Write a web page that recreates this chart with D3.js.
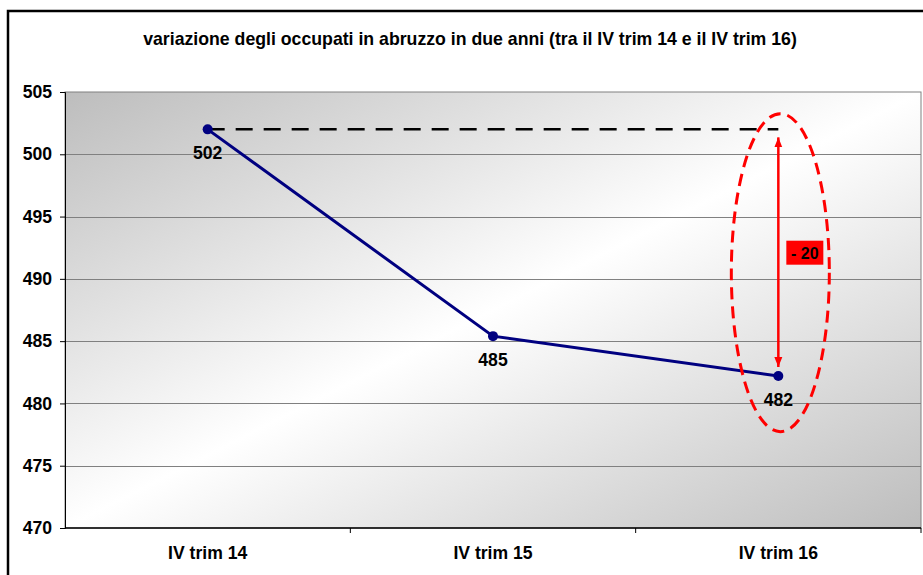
<!DOCTYPE html>
<html>
<head>
<meta charset="utf-8">
<script src="https://cdn.jsdelivr.net/npm/d3@7"></script>
<style>
  html, body { margin: 0; padding: 0; background: #fff; }
  svg text { font-family: "Liberation Sans", Arial, sans-serif; font-weight: bold; }
</style>
</head>
<body>
<div id="chart"></div>
<script>
// data
const categories = ["IV trim 14", "IV trim 15", "IV trim 16"];
const occupati = [502.0, 485.4, 482.2];
const yTicks = [470, 475, 480, 485, 490, 495, 500, 505];
const title = "variazione degli occupati in abruzzo in due anni (tra il IV trim 14 e il IV trim 16)";
const deltaLabel = "- 20";

const width = 923, height = 575;
const plot = { left: 65, top: 92, right: 921, bottom: 528 };
const fontSize = "17.6px";

const svg = d3.select("#chart")
  .append("svg")
  .attr("width", width)
  .attr("height", height);

// outer chart frame (cut off on the right and bottom)
svg.append("rect")
  .attr("x", 8).attr("y", 11)
  .attr("width", 940).attr("height", 600)
  .attr("fill", "#fff")
  .attr("stroke", "#000")
  .attr("stroke-width", 2.5);

svg.append("text")
  .attr("x", 470).attr("y", 45)
  .attr("text-anchor", "middle")
  .style("font-size", "17.7px")
  .text(title);

const x = d3.scaleBand()
  .domain(categories)
  .range([plot.left, plot.right]);

const y = d3.scaleLinear()
  .domain([470, 505])
  .range([plot.bottom, plot.top]);

// plot area background gradient
const defs = svg.append("defs");
const grad = defs.append("linearGradient")
  .attr("id", "bg")
  .attr("x1", 0).attr("y1", 0).attr("x2", 1).attr("y2", 1);
grad.append("stop").attr("offset", "0%").attr("stop-color", "#bdbdbd");
grad.append("stop").attr("offset", "50%").attr("stop-color", "#ffffff");
grad.append("stop").attr("offset", "100%").attr("stop-color", "#bdbdbd");

defs.append("marker")
  .attr("id", "arrow")
  .attr("viewBox", "0 0 10 10")
  .attr("refX", 10).attr("refY", 5)
  .attr("markerWidth", 4).attr("markerHeight", 4.5)
  .attr("orient", "auto-start-reverse")
  .append("path")
  .attr("d", "M0,1 L10,5 L0,9 Z")
  .attr("fill", "#ff0000");

svg.append("rect")
  .attr("x", plot.left).attr("y", plot.top)
  .attr("width", plot.right - plot.left)
  .attr("height", plot.bottom - plot.top)
  .attr("fill", "url(#bg)")
  .attr("stroke", "#808080")
  .attr("stroke-width", 1);

// gridlines
svg.append("g")
  .selectAll("line")
  .data(yTicks.filter(d => d > 470 && d < 505))
  .enter()
  .append("line")
  .attr("x1", plot.left).attr("x2", plot.right)
  .attr("y1", d => Math.round(y(d)) + 0.5)
  .attr("y2", d => Math.round(y(d)) + 0.5)
  .attr("stroke", "#808080")
  .attr("stroke-width", 1);

// y axis
const yAxis = svg.append("g")
  .attr("transform", "translate(" + plot.left + ",0)")
  .call(d3.axisLeft(y).tickValues(yTicks).tickSize(5).tickPadding(8));
yAxis.select(".domain").attr("stroke", "#000");
yAxis.selectAll("text").style("font-size", fontSize).attr("fill", "#000");

// x axis: ticks on category boundaries
const xAxisG = svg.append("g")
  .attr("transform", "translate(0," + plot.bottom + ")");
xAxisG.append("line")
  .attr("x1", plot.left).attr("x2", plot.right)
  .attr("stroke", "#000").attr("stroke-width", 1.5);
xAxisG.selectAll(".tk")
  .data(categories)
  .enter()
  .append("line")
  .attr("x1", d => x(d) + x.bandwidth())
  .attr("x2", d => x(d) + x.bandwidth())
  .attr("y1", 0).attr("y2", 5)
  .attr("stroke", "#000");
xAxisG.selectAll(".lbl")
  .data(categories)
  .enter()
  .append("text")
  .attr("x", d => x(d) + x.bandwidth() / 2)
  .attr("y", 31)
  .attr("text-anchor", "middle")
  .style("font-size", fontSize)
  .text(d => d);

const px = (d, i) => x(categories[i]) + x.bandwidth() / 2;

// dashed reference line at the starting value
svg.append("line")
  .attr("x1", px(null, 0)).attr("x2", px(null, 2))
  .attr("y1", y(occupati[0])).attr("y2", y(occupati[0]))
  .attr("stroke", "#000")
  .attr("stroke-width", 2.5)
  .attr("stroke-dasharray", "17,11");

// series line
svg.append("path")
  .datum(occupati)
  .attr("d", d3.line().x(px).y(d => y(d)))
  .attr("fill", "none")
  .attr("stroke", "#000080")
  .attr("stroke-width", 3);

svg.selectAll(".pt")
  .data(occupati)
  .enter()
  .append("circle")
  .attr("cx", px)
  .attr("cy", d => y(d))
  .attr("r", 5)
  .attr("fill", "#000080");

svg.selectAll(".val")
  .data(occupati)
  .enter()
  .append("text")
  .attr("x", px)
  .attr("y", d => y(d) + 30)
  .attr("text-anchor", "middle")
  .style("font-size", fontSize)
  .text(d => d3.format(".0f")(d));

// difference annotation
const xLast = px(null, 2);
svg.append("line")
  .attr("x1", xLast).attr("x2", xLast)
  .attr("y1", y(occupati[0]) + 8)
  .attr("y2", y(occupati[2]) - 9)
  .attr("stroke", "#ff0000")
  .attr("stroke-width", 2.5)
  .attr("marker-start", "url(#arrow)")
  .attr("marker-end", "url(#arrow)");

const labelY = y((occupati[0] + occupati[2]) / 2);
svg.append("rect")
  .attr("x", xLast + 8).attr("y", labelY - 12)
  .attr("width", 37).attr("height", 24)
  .attr("fill", "#ff0000");
svg.append("text")
  .attr("x", xLast + 26.5).attr("y", labelY + 6)
  .attr("text-anchor", "middle")
  .style("font-size", "16px")
  .text(deltaLabel);

svg.append("ellipse")
  .attr("cx", xLast + 2)
  .attr("cy", y(490.5))
  .attr("rx", 49)
  .attr("ry", 159)
  .attr("fill", "none")
  .attr("stroke", "#ff0000")
  .attr("stroke-width", 3)
  .attr("stroke-dasharray", "12,7");
</script>
</body>
</html>
